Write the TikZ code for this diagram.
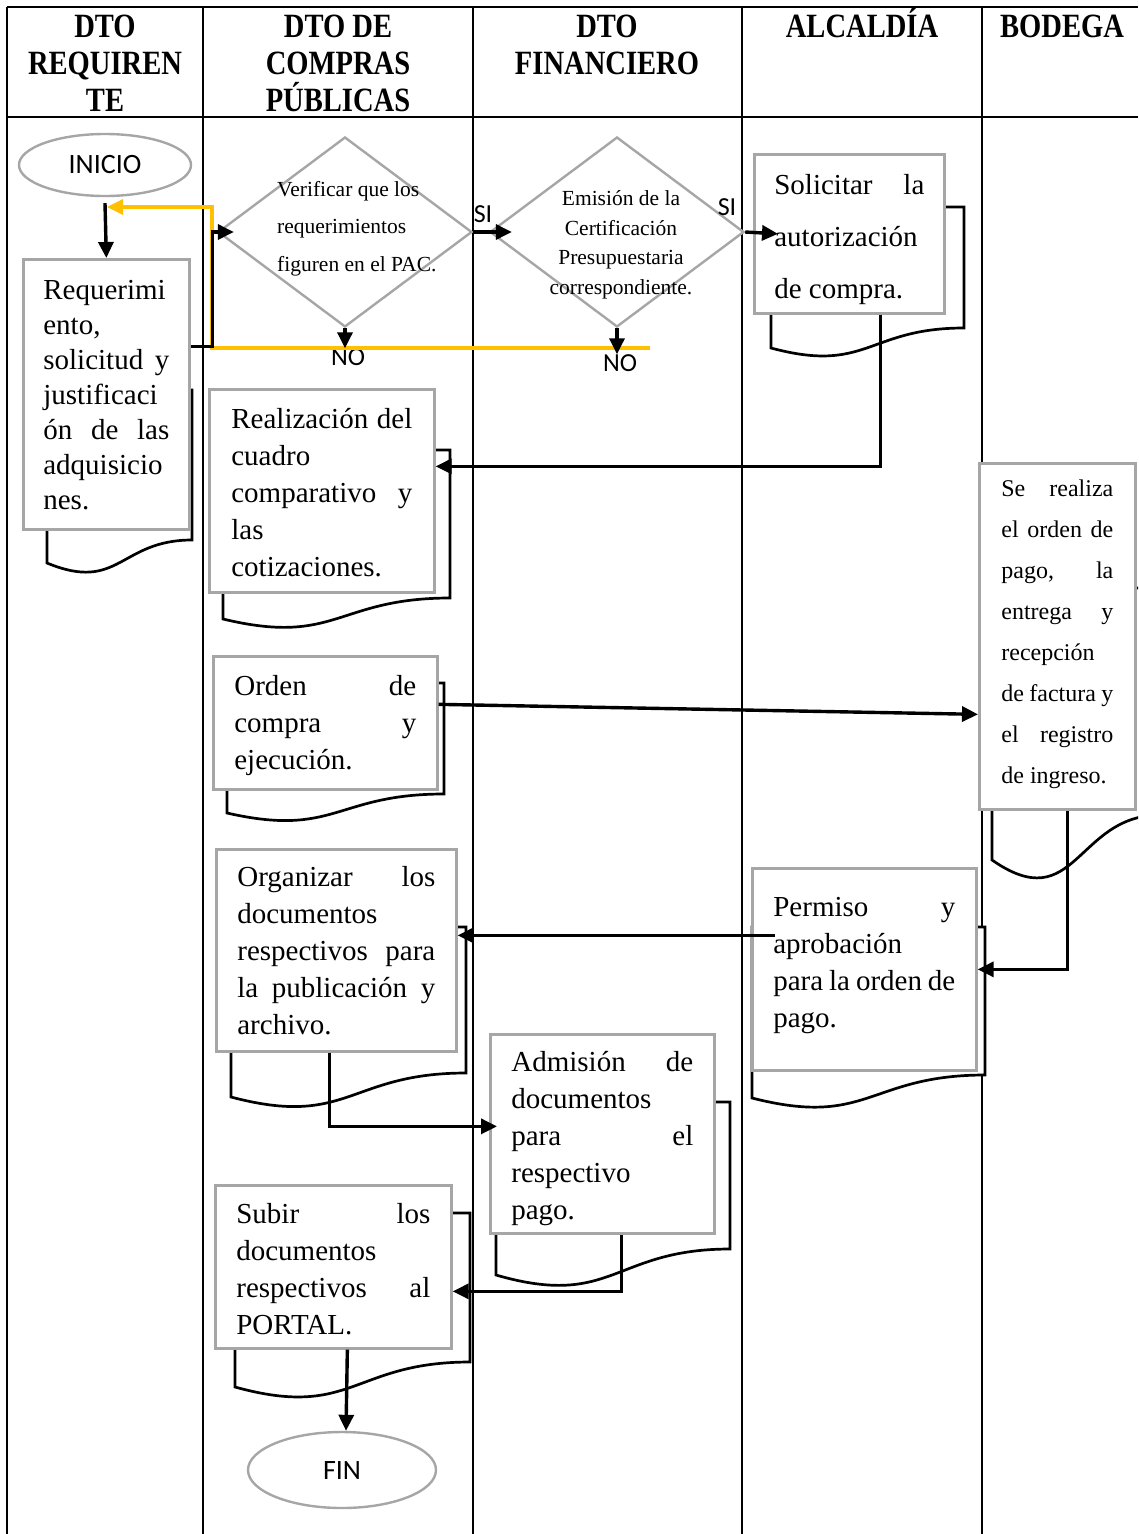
\documentclass[tikz,border=0pt]{standalone}
\usepackage{fontspec}
\setmainfont{Liberation Serif}
\newfontfamily\headfont[FakeStretch=0.84]{Liberation Serif}
\newfontfamily\calfont{Carlito}
\usetikzlibrary{arrows.meta,shapes.geometric}
\definecolor{boxgray}{RGB}{166,166,166}
\definecolor{backgold}{RGB}{255,192,0}
\tikzstyle{lane}=[line width=1.8pt]
\tikzstyle{tableline}=[line width=2.8pt]
\tikzstyle{head}=[font=\headfont\bfseries\fontsize{34}{37}\selectfont, align=center, inner sep=0pt]
\tikzstyle{terminal}=[draw=boxgray, ellipse, line width=2.4pt, fill=white, font=\calfont\fontsize{28}{30}\selectfont]
\tikzstyle{decision}=[draw=boxgray, diamond, line width=2.4pt, fill=white, inner sep=0pt, minimum width=254pt, minimum height=190pt]
\tikzstyle{choice}=[font=\fontsize{21.5}{37.5}\selectfont, inner sep=0pt]
\tikzstyle{procbox}=[draw=boxgray, line width=2.7pt, fill=white, anchor=north west, inner xsep=21pt, font=\fontsize{29}{37}\selectfont]
\tikzstyle{docline}=[line width=2.7pt, fill=white]
\tikzstyle{answer}=[font=\calfont\fontsize{26}{28}\selectfont, inner sep=0pt]
\tikzstyle{flowline}=[line width=3.4pt, -{Triangle[length=16pt,width=15pt]}]
\tikzstyle{backline}=[flowline, draw=backgold]
\newcommand{\docshape}[5]{\draw[docline] (#1,#2) -- (#3,#2) -- (#3,#4) .. controls ({(#1+#3)/2},#4) and ({(#1+#3)/2},{#4+2.3*(#5-#4)}) .. (#1,#5) -- cycle;}

\begin{document}
\begin{tikzpicture}[x=1pt, y=-1pt]
    \useasboundingbox (0,0) rectangle (1138,1534);
    \clip (0,0) rectangle (1138,1534);
    \draw[tableline] (7,7) -- (1138,7);
    \draw[tableline] (7,117) -- (1138,117);
    \foreach \x in {7,203,473,742,982}
        \draw[lane] (\x,7) -- (\x,1534);

    \node[head, anchor=north] (hreq) at (105,11) {\strut DTO\\REQUIREN\\TE};
    \node[head, anchor=north] (hcom) at (338,11) {\strut DTO DE\\COMPRAS\\PÚBLICAS};
    \node[head, anchor=north] (hfin) at (607,11) {\strut DTO\\FINANCIERO};
    \node[head, anchor=base] (halc) at (862,37) {ALCALDÍA};
    \node[head, anchor=base] (hbod) at (1062,37) {BODEGA};

    \docshape{47}{390}{192}{540}{563}
    \docshape{771}{207}{964}{328}{348}
    \docshape{223}{450}{450}{598}{619}
    \docshape{227}{683}{444}{794}{813}
    \docshape{992}{588}{1160}{815}{860}
    \docshape{752}{927}{985}{1075}{1098}
    \docshape{231}{927}{466}{1073}{1097}
    \docshape{496}{1102}{730}{1249}{1275}
    \docshape{235}{1213}{470}{1362}{1387}

    \node[terminal, minimum width=172pt, minimum height=62pt] (inicio) at (105,165) {INICIO};
    \node[procbox, inner xsep=20pt, inner ysep=15.5pt, font=\fontsize{29}{35}\selectfont] (req) at (22,258)
        {\parbox[t][239pt][t]{126pt}{\strut Requerimi\\ento,\\solicitud\hfill y\\justificaci\\ón\hfill de\hfill las\\adquisicio\\nes.}};
    \node[decision] (ver) at (345,232) {};
    \node[choice, align=left, anchor=north west] (vertxt) at (277,170)
        {\strut Verificar que los\\requerimientos\\figuren en el PAC.};
    \node[decision] (emi) at (617,232) {};
    \node[choice, align=center, anchor=north, font=\fontsize{21.5}{29.5}\selectfont] (emitxt) at (621,185)
        {\strut Emisión de la\\Certificación\\Presupuestaria\\correspondiente.};
    \node[procbox, inner xsep=20pt, inner ysep=3.6pt, font=\fontsize{29}{52}\selectfont] (sol) at (753,153)
        {\parbox[t][151.8pt][t]{150pt}{\strut Solicitar\hfill la\\autorización\\de compra.}};
    \node[procbox, inner xsep=22pt, inner ysep=13.1pt] (rea) at (208,388)
        {\parbox[t][176.8pt][t]{181pt}{\strut Realización\hfill del\\cuadro\\comparativo\hfill y\\las\\cotizaciones.}};
    \node[procbox, inner ysep=13.5pt] (ord) at (212,655)
        {\parbox[t][106pt][t]{182pt}{\strut Orden\hfill de\\compra\hfill y\\ejecución.}};
    \node[procbox, inner xsep=22pt, inner ysep=4.3pt, font=\fontsize{24}{41}\selectfont] (bod) at (978,462)
        {\parbox[t][337.4pt][t]{112pt}{\strut Se\hfill realiza\\el\hfill orden\hfill de\\pago,\hfill la\\entrega\hfill y\\recepción\\de\hfill factura\hfill y\\el\hfill registro\\de ingreso.}};
    \node[procbox, inner ysep=22.1pt] (per) at (751,867)
        {\parbox[t][157.8pt][t]{182pt}{\strut Permiso\hfill y\\aprobación\\para la orden de\\pago.}};
    \node[procbox, inner ysep=11.1pt] (org) at (215,848)
        {\parbox[t][179.8pt][t]{198pt}{\strut Organizar\hfill los\\documentos\\respectivos\hfill para\\la\hfill publicación\hfill y\\archivo.}};
    \node[procbox, inner ysep=11.1pt] (adm) at (489,1033)
        {\parbox[t][176.8pt][t]{182pt}{\strut Admisión\hfill de\\documentos\\para\hfill el\\respectivo\\pago.}};
    \node[procbox, inner ysep=12.1pt] (sub) at (214,1184)
        {\parbox[t][138.8pt][t]{194pt}{\strut Subir\hfill los\\documentos\\respectivos\hfill al\\PORTAL.}};
    \node[terminal, minimum width=188pt, minimum height=76pt] (fin) at (342,1470) {FIN};

    \node[answer] (si1) at (483,214) {SI};
    \node[answer] (si2) at (727,207) {SI};
    \node[answer] (no1) at (348,357) {NO};
    \node[answer] (no2) at (620,363) {NO};

    \coordinate (noend) at (650,348);
    \coordinate (back) at (107,207);
    \draw[backline] (noend) -- (212,348) |- (back);

    \draw[flowline] ([yshift=-6pt]inicio.south) -- (req.north);
    \draw[flowline] ([yshift=48pt]req.east) -- ++(22,0) |- ([xshift=17pt]ver.west);
    \draw[flowline] (ver.south) -- (ver.south |- no1.north);
    \draw[flowline] (emi.south) -- (emi.south |- no2.north);
    \draw[flowline] (ver.east) -- ([xshift=23pt]emi.west);
    \draw[flowline] (emi.east) -- ([xshift=25pt]sol.west);
    \draw[flowline] ([xshift=31pt]sol.south) |- ([yshift=24.5pt]rea.east);
    \draw[flowline] ([yshift=18.5pt]ord.east) -- ([yshift=-78pt]bod.west);
    \draw[flowline] ([xshift=10pt]bod.south) |- (per.east);
    \draw[flowline] ([xshift=24pt,yshift=34pt]per.west) -- ([yshift=15pt]org.east);
    \draw[flowline] ([xshift=-7pt]org.south) |- ([xshift=8pt,yshift=7.5pt]adm.west);
    \draw[flowline] ([xshift=19pt]adm.south) |- ([yshift=-24.5pt]sub.east);
    \draw[flowline] ([xshift=14pt]sub.south) -- ([xshift=4pt]fin.north);
\end{tikzpicture}
\end{document}
